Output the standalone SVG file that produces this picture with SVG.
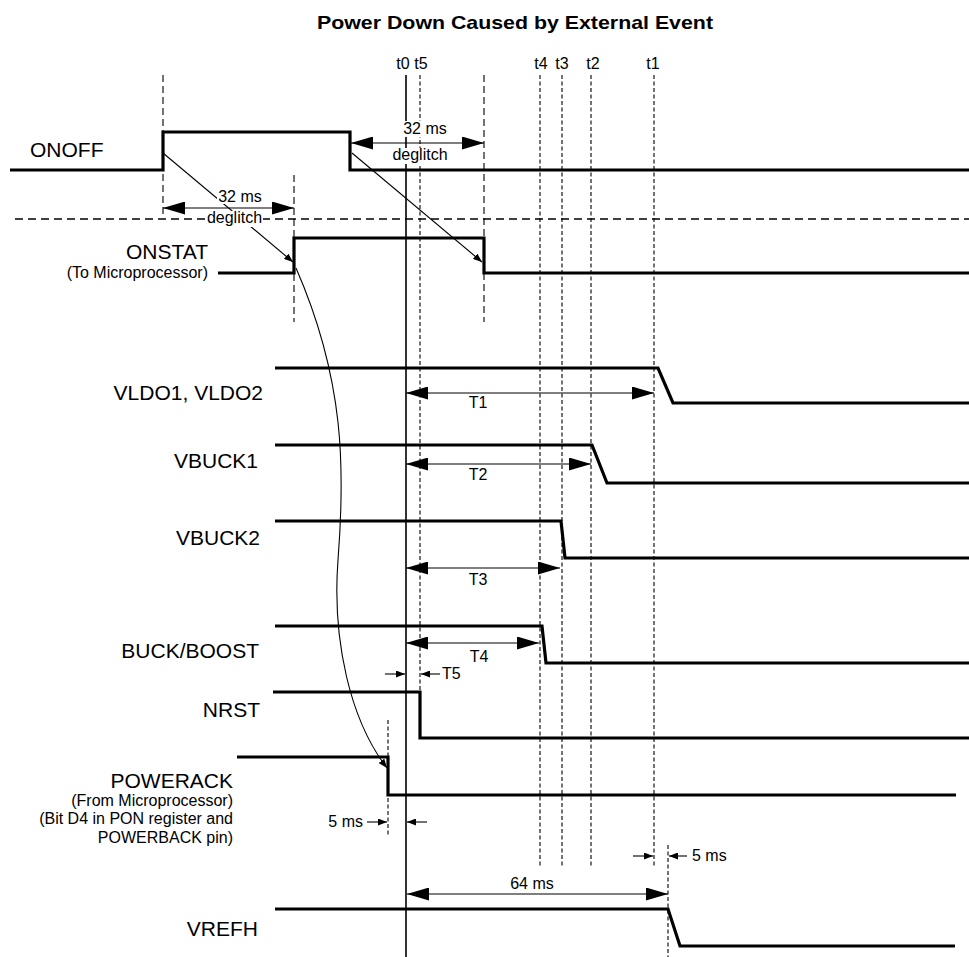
<svg xmlns="http://www.w3.org/2000/svg" width="969" height="957" viewBox="0 0 969 957">
<style>
text{font-family:"Liberation Sans",Arial,sans-serif;fill:#000}
.lbl{font-size:21px;text-anchor:end}
.sm{font-size:16px}
.end{text-anchor:end}
.mid{text-anchor:middle}
.sig{fill:none;stroke:#000;stroke-width:3.2;stroke-linejoin:miter;stroke-linecap:butt}
.tl{stroke:#000;stroke-width:1.1;stroke-dasharray:4,2.5;fill:none}
.dl{stroke:#000;stroke-width:1.1;stroke-dasharray:7,4;fill:none}
.hd{stroke:#000;stroke-width:1.3;stroke-dasharray:8,5;fill:none}
.thin{stroke:#000;stroke-width:1.1;fill:none}
.dim{stroke:#000;stroke-width:1.1;fill:none;marker-start:url(#big);marker-end:url(#big)}
.sa{stroke:#000;stroke-width:1.1;fill:none;marker-end:url(#small)}
.bg{fill:#fff}
</style>
<defs>
<marker id="big" viewBox="0 0 22 13" refX="22" refY="6.5" markerWidth="22" markerHeight="13" markerUnits="userSpaceOnUse" orient="auto-start-reverse"><path d="M0,0 L22,6.5 L0,13 z" fill="#000"/></marker>
<marker id="small" viewBox="0 0 9 7" refX="9" refY="3.5" markerWidth="9" markerHeight="7" markerUnits="userSpaceOnUse" orient="auto"><path d="M0,0 L9,3.5 L0,7 z" fill="#000"/></marker>
</defs>
<rect width="969" height="957" fill="#fff"/>
<text x="515" y="29" class="mid" font-size="19" font-weight="bold" textLength="396" lengthAdjust="spacingAndGlyphs">Power Down Caused by External Event</text>

<g id="time-markers">
<text x="403" y="69" class="sm mid">t0</text>
<text x="421" y="69" class="sm mid">t5</text>
<text x="541" y="69" class="sm mid">t4</text>
<text x="562" y="69" class="sm mid">t3</text>
<text x="593" y="69" class="sm mid">t2</text>
<text x="653" y="69" class="sm mid">t1</text>
<line x1="406" y1="75" x2="406" y2="957" stroke="#000" stroke-width="1.6"/>
<line class="tl" x1="420" y1="75" x2="420" y2="692"/>
<line class="tl" x1="540" y1="75" x2="540" y2="868"/>
<line class="tl" x1="562" y1="75" x2="562" y2="868"/>
<line class="tl" x1="591" y1="75" x2="591" y2="868"/>
<line class="tl" x1="654" y1="75" x2="654" y2="868"/>
<line class="dl" x1="163" y1="75" x2="163" y2="215"/>
<line class="dl" x1="294" y1="175" x2="294" y2="322"/>
<line class="dl" x1="484" y1="75" x2="484" y2="322"/>
<line class="tl" x1="388" y1="720" x2="388" y2="835"/>
<line class="tl" x1="668" y1="845" x2="668" y2="957"/>
<line class="hd" x1="15" y1="219" x2="969" y2="219"/>
</g>

<g id="onoff">
<text x="30" y="157" font-size="21">ONOFF</text>
<path class="sig" d="M10,170 H163 V132 H350 V170 H969"/>
</g>
<g id="onstat">
<text x="208" y="259" class="lbl">ONSTAT</text>
<text x="208" y="278" class="sm end">(To Microprocessor)</text>
<path class="sig" d="M218,273 H294 V238 H484 V273 H969"/>
</g>
<g id="vldo">
<text x="263" y="400" class="lbl">VLDO1, VLDO2</text>
<path class="sig" d="M275,368 H658 L673,403 H969"/>
</g>
<g id="vbuck1">
<text x="258" y="468" class="lbl">VBUCK1</text>
<path class="sig" d="M275,445 H592 L607,483 H969"/>
</g>
<g id="vbuck2">
<text x="260" y="545" class="lbl">VBUCK2</text>
<path class="sig" d="M275,521 H561 L565,558 H969"/>
</g>
<g id="buckboost">
<text x="259" y="658" class="lbl">BUCK/BOOST</text>
<path class="sig" d="M275,626 H542 L546,663 H969"/>
</g>
<g id="nrst">
<text x="260" y="717" class="lbl">NRST</text>
<path class="sig" d="M273,692 H420 V738 H969"/>
</g>
<g id="powerack">
<text x="233" y="788" class="lbl">POWERACK</text>
<text x="233" y="806" class="sm end">(From Microprocessor)</text>
<text x="233" y="824" class="sm end">(Bit D4 in PON register and</text>
<text x="233" y="843" class="sm end">POWERBACK pin)</text>
<path class="sig" d="M237,757 H388 V795 H956"/>
</g>
<g id="vrefh">
<text x="258" y="936" class="lbl">VREFH</text>
<path class="sig" d="M275,909 H668 L680,946 H955"/>
</g>

<g id="connectors">
<line class="sa" x1="163" y1="153" x2="293" y2="262"/>
<line class="sa" x1="352" y1="153" x2="482" y2="262"/>
<path class="sa" d="M296,268 C345,380 345,470 338,560 C332,640 350,720 387,768"/>
<line class="dim" x1="163" y1="208" x2="294" y2="208"/>
<line class="dim" x1="351" y1="143" x2="484" y2="143"/>
<line class="dim" x1="406" y1="393" x2="654" y2="393"/>
<line class="dim" x1="406" y1="464" x2="591" y2="464"/>
<line class="dim" x1="406" y1="568" x2="560" y2="568"/>
<line class="dim" x1="406" y1="643" x2="539" y2="643"/>
<line class="dim" x1="407" y1="894" x2="668" y2="894"/>
<line class="sa" x1="385" y1="674" x2="405" y2="674"/>
<line class="sa" x1="440" y1="674" x2="421" y2="674"/>
<line class="sa" x1="367" y1="822" x2="387" y2="822"/>
<line class="sa" x1="427" y1="822" x2="407" y2="822"/>
<line class="sa" x1="633" y1="856" x2="653" y2="856"/>
<line class="sa" x1="687" y1="856" x2="669" y2="856"/>
</g>

<g id="dim-labels">
<rect class="bg" x="217" y="189" width="46" height="15"/>
<text x="240" y="202" class="sm mid">32 ms</text>
<rect class="bg" x="206" y="211" width="57" height="16"/>
<text x="234.5" y="223" class="sm mid">deglitch</text>
<rect class="bg" x="402" y="121" width="46" height="16"/>
<text x="425" y="134" class="sm mid">32 ms</text>
<rect class="bg" x="392" y="148" width="56" height="16"/>
<text x="420" y="160" class="sm mid">deglitch</text>
<text x="478" y="408" class="sm mid">T1</text>
<text x="478" y="480" class="sm mid">T2</text>
<text x="478" y="585" class="sm mid">T3</text>
<text x="479" y="662" class="sm mid">T4</text>
<text x="442" y="679" class="sm">T5</text>
<text x="363" y="827" class="sm end">5 ms</text>
<text x="692" y="861" class="sm">5 ms</text>
<text x="532" y="889" class="sm mid">64 ms</text>
</g>
</svg>
